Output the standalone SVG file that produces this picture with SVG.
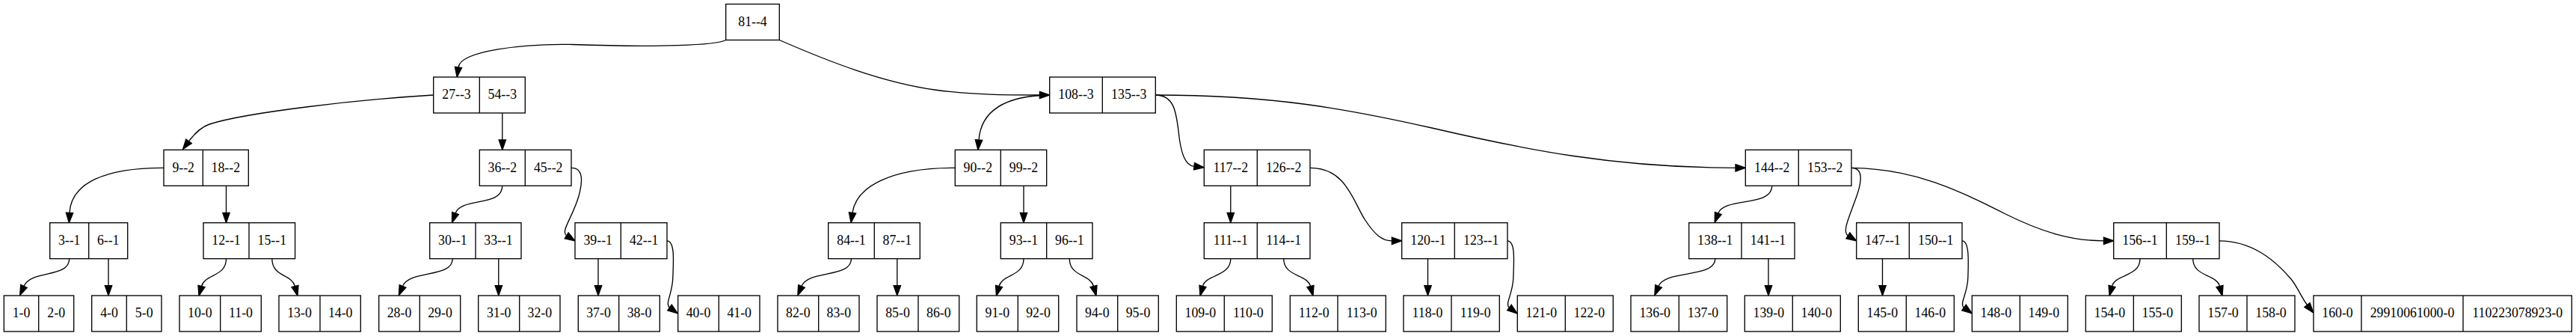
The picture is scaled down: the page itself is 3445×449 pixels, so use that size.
<svg xmlns="http://www.w3.org/2000/svg" width="3445" height="449" viewBox="0 0 3445 449">
<style>
.b{fill:#fff;stroke:#000;stroke-width:1.33}
.d{stroke:#000;stroke-width:1.33}
text{font-family:"Liberation Serif","Times New Roman",serif;font-size:17.8px;text-anchor:middle;fill:#000}
.e{fill:none;stroke:#000;stroke-width:1.33;marker-end:url(#ah)}
</style>
<defs>
<marker id="ah" markerUnits="userSpaceOnUse" markerWidth="16" markerHeight="12" refX="0" refY="4.67" orient="auto" overflow="visible">
<path d="M0,0 L13.3,4.67 L0,9.33 Z" fill="#000" stroke="#000" stroke-width="1.33"/>
</marker>
</defs>
<rect width="3445" height="449" fill="#fff"/>
<g id="connectors">
<path class="e" d="M970.7,53.5 C958,60.5 880,63.5 766,59.5 C700,58 616,68 613,89.8"/>
<path class="e" d="M1042.3,53.5 C1110,83 1180,110 1250,120 C1300,127 1350,127 1390.4,127"/>
<path class="e" d="M579.7,127 C480,133 330,150 280,166 C270,169.5 262,176 252.5,188.8"/>
<path class="e" d="M671.8,151 L671.8,187"/>
<path class="e" d="M1403.7,127 C1340,128 1312,150 1309,187"/>
<path class="e" d="M1545.3,127 C1570,127 1573,150 1576,175 C1579,205 1585,221 1597,222.3"/>
<path class="e" d="M1545.3,127 C1700,127 1800,145 1915,171 C2040,200 2160,224.3 2321,224.3"/>
<path class="e" d="M219,224.3 C140,224 95,245 93,284.4"/>
<path class="e" d="M302.5,248.3 L302.5,284.4"/>
<path class="e" d="M671.8,248.3 C671.5,277 617,263 609,285"/>
<path class="e" d="M764,224.3 C781,224 779,244 774,262 C766,290 749.2,309.5 757.7,314.8"/>
<path class="e" d="M1277.3,224.3 C1190,224 1145,250 1140,284.4"/>
<path class="e" d="M1369,248.3 L1369,284.4"/>
<path class="e" d="M1645.8,248.3 L1645.8,284.4"/>
<path class="e" d="M1752,224.3 C1800,224 1810,270 1825,293 C1838,313 1848,321.8 1861.4,321.8"/>
<path class="e" d="M2369.8,248.3 C2369.5,277 2306,263 2297.8,285"/>
<path class="e" d="M2476,224.3 C2492,224 2490,242 2483,262 C2474,288 2462.9,309.5 2471.4,314.8"/>
<path class="e" d="M2476,224.3 C2560,225 2620,255 2680,285 C2730,310 2770,321.8 2813.4,321.8"/>
<path class="e" d="M92.7,345.7 C92.5,372 42,360 32,382.5"/>
<path class="e" d="M145,345.7 L145,381.7"/>
<path class="e" d="M302.5,345.7 C302.5,370 274,366 269.5,382.5"/>
<path class="e" d="M363.8,345.7 C363.8,370 390,366 394.5,382.5"/>
<path class="e" d="M605.3,345.7 C605,372 548,360 538.5,382.5"/>
<path class="e" d="M666.8,345.7 L666.8,381.7"/>
<path class="e" d="M800,345.7 L800,381.7"/>
<path class="e" d="M892,321.8 C903,322 900.5,350 899.8,372 C899,393 889,406.3 895.5,411"/>
<path class="e" d="M1138.5,345.7 C1138.3,372 1081.5,360 1072,382.5"/>
<path class="e" d="M1199.8,345.7 L1199.8,381.7"/>
<path class="e" d="M1369,345.7 C1369,370 1340.5,366 1336,382.5"/>
<path class="e" d="M1430.3,345.7 C1430.3,370 1458,366 1462.5,382.5"/>
<path class="e" d="M1645.8,345.7 C1645.8,370 1613,366 1608.5,382.5"/>
<path class="e" d="M1716.7,345.7 C1716.7,370 1748,366 1752.5,382.5"/>
<path class="e" d="M1909.5,345.7 L1909.5,381.7"/>
<path class="e" d="M2016,321.8 C2027,322 2024.5,350 2023.8,372 C2023,393 2012.2,406.3 2018.5,411"/>
<path class="e" d="M2293.8,345.7 C2293.5,372 2227.5,360 2218,382.5"/>
<path class="e" d="M2365,345.7 L2365,381.7"/>
<path class="e" d="M2517.5,345.7 L2517.5,381.7"/>
<path class="e" d="M2624,321.8 C2634,322 2632.5,350 2631.8,372 C2631,393 2620,406.3 2626.5,411"/>
<path class="e" d="M2862,345.7 C2862,370 2829,366 2824.5,382.5"/>
<path class="e" d="M2932.7,345.7 C2932.7,370 2964,366 2968.5,382.5"/>
<path class="e" d="M2968,321.8 C3010,322 3040,345 3064,373 C3072,382.5 3078,398 3085.5,407.5"/>
</g>
<g id="n81"><rect class="b" x="970.7" y="5.5" width="71.6" height="48"/><text x="1006.5" y="34.9">81--4</text></g>
<g id="n27"><rect class="b" x="579.7" y="103" width="122.6" height="48"/><line class="d" x1="641.3" y1="103" x2="641.3" y2="151"/><text x="610.5" y="132.4">27--3</text><text x="671.8" y="132.4">54--3</text></g>
<g id="n108"><rect class="b" x="1403.7" y="103" width="141.6" height="48"/><line class="d" x1="1474.3" y1="103" x2="1474.3" y2="151"/><text x="1439" y="132.4">108--3</text><text x="1509.8" y="132.4">135--3</text></g>
<g id="n9"><rect class="b" x="219" y="200.3" width="113.3" height="48"/><line class="d" x1="271.3" y1="200.3" x2="271.3" y2="248.3"/><text x="245.2" y="229.7">9--2</text><text x="301.8" y="229.7">18--2</text></g>
<g id="n36"><rect class="b" x="641.3" y="200.3" width="122.7" height="48"/><line class="d" x1="702.3" y1="200.3" x2="702.3" y2="248.3"/><text x="671.8" y="229.7">36--2</text><text x="733.2" y="229.7">45--2</text></g>
<g id="n90"><rect class="b" x="1277.3" y="200.3" width="122.4" height="48"/><line class="d" x1="1338.3" y1="200.3" x2="1338.3" y2="248.3"/><text x="1307.8" y="229.7">90--2</text><text x="1369" y="229.7">99--2</text></g>
<g id="n117"><rect class="b" x="1610.3" y="200.3" width="141.7" height="48"/><line class="d" x1="1681.3" y1="200.3" x2="1681.3" y2="248.3"/><text x="1645.8" y="229.7">117--2</text><text x="1716.7" y="229.7">126--2</text></g>
<g id="n144"><rect class="b" x="2334.3" y="200.3" width="141.7" height="48"/><line class="d" x1="2405.3" y1="200.3" x2="2405.3" y2="248.3"/><text x="2369.8" y="229.7">144--2</text><text x="2440.7" y="229.7">153--2</text></g>
<g id="n3"><rect class="b" x="66.7" y="297.7" width="104" height="48"/><line class="d" x1="118.7" y1="297.7" x2="118.7" y2="345.7"/><text x="92.7" y="327.1">3--1</text><text x="144.7" y="327.1">6--1</text></g>
<g id="n12"><rect class="b" x="272" y="297.7" width="122.6" height="48"/><line class="d" x1="333" y1="297.7" x2="333" y2="345.7"/><text x="302.5" y="327.1">12--1</text><text x="363.8" y="327.1">15--1</text></g>
<g id="n30"><rect class="b" x="574.7" y="297.7" width="122.3" height="48"/><line class="d" x1="636" y1="297.7" x2="636" y2="345.7"/><text x="605.3" y="327.1">30--1</text><text x="666.5" y="327.1">33--1</text></g>
<g id="n39"><rect class="b" x="769" y="297.7" width="123" height="48"/><line class="d" x1="830.3" y1="297.7" x2="830.3" y2="345.7"/><text x="799.7" y="327.1">39--1</text><text x="861.2" y="327.1">42--1</text></g>
<g id="n84"><rect class="b" x="1107.7" y="297.7" width="122.6" height="48"/><line class="d" x1="1169.3" y1="297.7" x2="1169.3" y2="345.7"/><text x="1138.5" y="327.1">84--1</text><text x="1199.8" y="327.1">87--1</text></g>
<g id="n93"><rect class="b" x="1338.3" y="297.7" width="122.7" height="48"/><line class="d" x1="1399.7" y1="297.7" x2="1399.7" y2="345.7"/><text x="1369" y="327.1">93--1</text><text x="1430.3" y="327.1">96--1</text></g>
<g id="n111"><rect class="b" x="1610.3" y="297.7" width="141.7" height="48"/><line class="d" x1="1681.3" y1="297.7" x2="1681.3" y2="345.7"/><text x="1645.8" y="327.1">111--1</text><text x="1716.7" y="327.1">114--1</text></g>
<g id="n120"><rect class="b" x="1874.7" y="297.7" width="141.3" height="48"/><line class="d" x1="1945.3" y1="297.7" x2="1945.3" y2="345.7"/><text x="1910" y="327.1">120--1</text><text x="1980.7" y="327.1">123--1</text></g>
<g id="n138"><rect class="b" x="2258.7" y="297.7" width="141.3" height="48"/><line class="d" x1="2329" y1="297.7" x2="2329" y2="345.7"/><text x="2293.8" y="327.1">138--1</text><text x="2364.5" y="327.1">141--1</text></g>
<g id="n147"><rect class="b" x="2482.7" y="297.7" width="141.3" height="48"/><line class="d" x1="2553.3" y1="297.7" x2="2553.3" y2="345.7"/><text x="2518" y="327.1">147--1</text><text x="2588.7" y="327.1">150--1</text></g>
<g id="n156"><rect class="b" x="2826.7" y="297.7" width="141.3" height="48"/><line class="d" x1="2897.3" y1="297.7" x2="2897.3" y2="345.7"/><text x="2862" y="327.1">156--1</text><text x="2932.7" y="327.1">159--1</text></g>
<g id="l1"><rect class="b" x="5.3" y="395" width="93.4" height="48"/><line class="d" x1="51.7" y1="395" x2="51.7" y2="443"/><text x="28.5" y="424.4">1-0</text><text x="75.2" y="424.4">2-0</text></g>
<g id="l4"><rect class="b" x="122.7" y="395" width="93.3" height="48"/><line class="d" x1="169.3" y1="395" x2="169.3" y2="443"/><text x="146" y="424.4">4-0</text><text x="192.7" y="424.4">5-0</text></g>
<g id="l10"><rect class="b" x="240" y="395" width="109.3" height="48"/><line class="d" x1="294.7" y1="395" x2="294.7" y2="443"/><text x="267.3" y="424.4">10-0</text><text x="322" y="424.4">11-0</text></g>
<g id="l13"><rect class="b" x="373" y="395" width="109.3" height="48"/><line class="d" x1="428" y1="395" x2="428" y2="443"/><text x="400.5" y="424.4">13-0</text><text x="455.2" y="424.4">14-0</text></g>
<g id="l28"><rect class="b" x="506.7" y="395" width="109" height="48"/><line class="d" x1="561.3" y1="395" x2="561.3" y2="443"/><text x="534" y="424.4">28-0</text><text x="588.5" y="424.4">29-0</text></g>
<g id="l31"><rect class="b" x="639.7" y="395" width="109.3" height="48"/><line class="d" x1="694.7" y1="395" x2="694.7" y2="443"/><text x="667.2" y="424.4">31-0</text><text x="721.8" y="424.4">32-0</text></g>
<g id="l37"><rect class="b" x="773.3" y="395" width="109" height="48"/><line class="d" x1="827.7" y1="395" x2="827.7" y2="443"/><text x="800.5" y="424.4">37-0</text><text x="855" y="424.4">38-0</text></g>
<g id="l40"><rect class="b" x="906.7" y="395" width="109.3" height="48"/><line class="d" x1="961.3" y1="395" x2="961.3" y2="443"/><text x="934" y="424.4">40-0</text><text x="988.7" y="424.4">41-0</text></g>
<g id="l82"><rect class="b" x="1040" y="395" width="109" height="48"/><line class="d" x1="1094.7" y1="395" x2="1094.7" y2="443"/><text x="1067.3" y="424.4">82-0</text><text x="1121.8" y="424.4">83-0</text></g>
<g id="l85"><rect class="b" x="1173" y="395" width="109.7" height="48"/><line class="d" x1="1228" y1="395" x2="1228" y2="443"/><text x="1200.5" y="424.4">85-0</text><text x="1255.3" y="424.4">86-0</text></g>
<g id="l91"><rect class="b" x="1306.3" y="395" width="109.4" height="48"/><line class="d" x1="1361.3" y1="395" x2="1361.3" y2="443"/><text x="1333.8" y="424.4">91-0</text><text x="1388.5" y="424.4">92-0</text></g>
<g id="l94"><rect class="b" x="1440" y="395" width="109.3" height="48"/><line class="d" x1="1494.7" y1="395" x2="1494.7" y2="443"/><text x="1467.3" y="424.4">94-0</text><text x="1522" y="424.4">95-0</text></g>
<g id="l109"><rect class="b" x="1573.3" y="395" width="128" height="48"/><line class="d" x1="1637.3" y1="395" x2="1637.3" y2="443"/><text x="1605.3" y="424.4">109-0</text><text x="1669.3" y="424.4">110-0</text></g>
<g id="l112"><rect class="b" x="1725.3" y="395" width="128" height="48"/><line class="d" x1="1789" y1="395" x2="1789" y2="443"/><text x="1757.2" y="424.4">112-0</text><text x="1821.2" y="424.4">113-0</text></g>
<g id="l118"><rect class="b" x="1877" y="395" width="128.3" height="48"/><line class="d" x1="1941" y1="395" x2="1941" y2="443"/><text x="1909" y="424.4">118-0</text><text x="1973.2" y="424.4">119-0</text></g>
<g id="l121"><rect class="b" x="2029.3" y="395" width="128" height="48"/><line class="d" x1="2093.3" y1="395" x2="2093.3" y2="443"/><text x="2061.3" y="424.4">121-0</text><text x="2125.3" y="424.4">122-0</text></g>
<g id="l136"><rect class="b" x="2181" y="395" width="128.7" height="48"/><line class="d" x1="2245.3" y1="395" x2="2245.3" y2="443"/><text x="2213.2" y="424.4">136-0</text><text x="2277.5" y="424.4">137-0</text></g>
<g id="l139"><rect class="b" x="2333.3" y="395" width="128" height="48"/><line class="d" x1="2397.3" y1="395" x2="2397.3" y2="443"/><text x="2365.3" y="424.4">139-0</text><text x="2429.3" y="424.4">140-0</text></g>
<g id="l145"><rect class="b" x="2485.3" y="395" width="128" height="48"/><line class="d" x1="2549.3" y1="395" x2="2549.3" y2="443"/><text x="2517.3" y="424.4">145-0</text><text x="2581.3" y="424.4">146-0</text></g>
<g id="l148"><rect class="b" x="2637.3" y="395" width="128" height="48"/><line class="d" x1="2701.3" y1="395" x2="2701.3" y2="443"/><text x="2669.3" y="424.4">148-0</text><text x="2733.3" y="424.4">149-0</text></g>
<g id="l154"><rect class="b" x="2789.3" y="395" width="128" height="48"/><line class="d" x1="2853.3" y1="395" x2="2853.3" y2="443"/><text x="2821.3" y="424.4">154-0</text><text x="2885.3" y="424.4">155-0</text></g>
<g id="l157"><rect class="b" x="2941" y="395" width="128" height="48"/><line class="d" x1="3005" y1="395" x2="3005" y2="443"/><text x="2973" y="424.4">157-0</text><text x="3037" y="424.4">158-0</text></g>
<g id="l160"><rect class="b" x="3094" y="395" width="345.3" height="48"/><line class="d" x1="3158" y1="395" x2="3158" y2="443"/><line class="d" x1="3294" y1="395" x2="3294" y2="443"/><text x="3126" y="424.4">160-0</text><text x="3226" y="424.4">29910061000-0</text><text x="3366.7" y="424.4">110223078923-0</text></g>
</svg>
